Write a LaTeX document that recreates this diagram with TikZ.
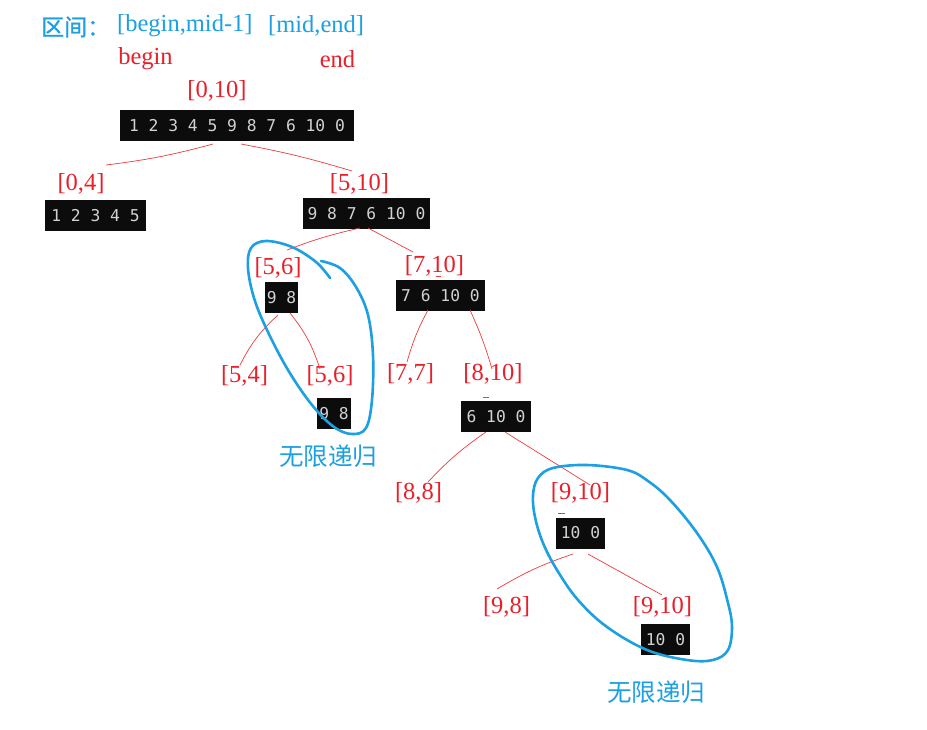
\documentclass[tikz,border=0pt]{standalone}
\usepackage{fontspec}
\setmainfont{Liberation Serif}
\newfontfamily\cjkfont{Noto Sans CJK SC}
\newfontfamily\cjkboldfont[FakeBold=1.2]{Noto Sans CJK SC}
\newfontfamily\monofont{DejaVu Sans Mono}
\usetikzlibrary{calc}
\definecolor{lblred}{RGB}{232,32,42}
\definecolor{lnred}{RGB}{236,60,60}
\definecolor{skyblue}{RGB}{28,160,226}
\definecolor{boxbg}{RGB}{12,12,12}
\definecolor{digit}{RGB}{210,210,210}
\tikzset{
  lbl/.style={text=lblred, font=\fontsize{24.5}{26}\selectfont, inner sep=0pt, yshift=-2pt},
  ttl/.style={text=skyblue, font=\fontsize{24.5}{26}\selectfont, inner sep=0pt, anchor=west, yshift=-3pt},
  arr/.style={fill=boxbg, text=digit, font=\monofont\fontsize{16.3}{18}\selectfont, inner sep=0pt, minimum height=31pt},
  conn/.style={draw=lnred, line width=0.7pt},
  loop/.style={draw=skyblue, line width=2.6pt, line cap=round, line join=round},
  note/.style={text=skyblue, font=\cjkfont\fontsize{24.5}{26}\selectfont, inner sep=0pt}
}
\begin{document}
\begin{tikzpicture}[x=1pt,y=-1pt]
\useasboundingbox[fill=white] (0,0) rectangle (927,730);
% title
\node[ttl, font=\cjkboldfont\fontsize{23}{25}\selectfont, yshift=-1pt] (t0) at (41,23) {区间：};
\node[ttl] (t1) at (117,23) {[begin,mid-1]};
\node[ttl] (t2) at (268,23) {[mid,end]};
\node[lbl] (lbegin) at (145.5,57) {begin};
\node[lbl] (lend) at (337.5,57) {end};
% labels
\node[lbl] (l010) at (217,89) {[0,10]};
\node[lbl] (l04) at (81,182) {[0,4]};
\node[lbl] (l510) at (359.5,182) {[5,10]};
\node[lbl] (l56) at (278,266) {[5,6]};
\node[lbl] (l710) at (434.5,264) {[7,10]};
\node[lbl] (l54) at (244.5,374) {[5,4]};
\node[lbl] (l56b) at (330,374) {[5,6]};
\node[lbl] (l77) at (410.5,372) {[7,7]};
\node[lbl] (l810) at (493,372) {[8,10]};
\node[lbl] (l88) at (418.5,491) {[8,8]};
\node[lbl] (l910) at (580.5,491) {[9,10]};
\node[lbl] (l98) at (506.5,605) {[9,8]};
\node[lbl] (l910b) at (662.5,605) {[9,10]};
% array boxes
\node[arr, minimum width=234pt] (b1) at (237,125.5) {1 2 3 4 5 9 8 7 6 10 0};
\node[arr, minimum width=101pt] (b2) at (95.5,216) {1 2 3 4 5};
\node[arr, minimum width=127pt] (b3) at (366.5,213.5) {9 8 7 6 10 0\hspace{3pt}};
\node[arr, minimum width=33pt] (b4) at (281.5,297.5) {9 8};
\node[arr, minimum width=89pt] (b5) at (440.5,295.5) {7 6 10 0};
\node[arr, minimum width=34pt] (b6) at (334,413.5) {9 8};
\node[arr, minimum width=70pt] (b7) at (496,416.5) {6 10 0};
\node[arr, minimum width=49pt] (b8) at (580.5,533) {10 0};
\node[arr, minimum width=49pt] (b9) at (665.5,639.5) {10 0};
% connectors
\draw[conn] ($(b1)+(-24,18.5)$) to[bend left=4] ($(l04)+(25,-19)$);
\draw[conn] ($(b1)+(4,18.5)$) to[bend left=3] ($(l510)+(-7.5,-13)$);
\draw[conn] ($(b3)+(-6.5,14.5)$) to[bend right=4] ($(l56)+(9,-18)$);
\draw[conn] ($(b3)+(1.5,14.5)$) to ($(l710)+(-21.5,-14)$);
\draw[conn] ($(b4)+(-3.5,17.5)$) to[bend right=10] ($(l54)+(-4.5,-11)$);
\draw[conn] ($(b4)+(8.5,15.5)$) to[bend left=10] ($(l56b)+(-10,-7)$);
\draw[conn] ($(b5)+(-12.5,14.5)$) to[bend right=6] ($(l77)+(-3.5,-12)$);
\draw[conn] ($(b5)+(29.5,14.5)$) to[bend left=4] ($(l810)+(-1,-5)$);
\draw[conn] ($(b7)+(-10,15.5)$) to[bend right=6] ($(l88)+(9.5,-11)$);
\draw[conn] ($(b7)+(9,15.5)$) to ($(l910)+(9.5,-8)$);
\draw[conn] ($(b8)+(-7.5,21)$) to[bend right=6] ($(l98)+(-9.5,-18)$);
\draw[conn] ($(b8)+(7.5,21)$) to ($(l910b)+(-0.5,-12)$);
% small marks
\draw[conn] ($(l710)+(1.5,10)$) -- ++(5,0);
\draw[conn] ($(b7.north)+(-13,-3)$) -- ++(6,0);
\draw[conn] ($(b8.north)+(-23,-4)$) -- ++(7,0);
% blue loops
\draw[loop] plot[smooth, tension=0.6] coordinates {(330,278) (316,262) (292,247) (266,241) (251,248) (248,268) (254,298) (267,330) (288,370) (312,405) (334,427) (352,434) (366,428) (372,400) (373,355) (368,315) (356,287) (340,268) (321,261)};
\draw[loop] plot[smooth cycle, tension=0.6] coordinates {(627,470) (587,465) (553,468) (538,478) (533,495) (535,517) (543,543) (557,570) (578,600) (607,627) (647,650) (687,660) (713,660) (728,650) (732,627) (728,603) (717,567) (697,533) (670,500) (648,481)};
% notes
\node[note] (n1) at (328,456) {无限递归};
\node[note] (n2) at (656,692) {无限递归};
\end{tikzpicture}
\end{document}
